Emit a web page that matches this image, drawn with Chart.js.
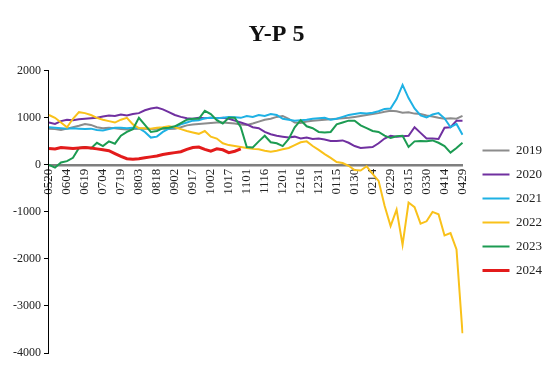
<!DOCTYPE html>
<html>
<head>
<meta charset="utf-8">
<script src="https://cdn.jsdelivr.net/npm/chart.js@4.4.1/dist/chart.umd.min.js"></script>
<style>
    html, body { margin: 0; padding: 0; background: #fff; }
    #wrap { width: 550px; height: 367px; }
</style>
</head>
<body>
<div id="wrap"><canvas id="myChart" width="550" height="367"></canvas></div>
<script>
(function () {
    'use strict';

    // one category every 5 days, 0520 -> 0429
    var days = ['0520', '0525', '0530', '0604', '0609', '0614', '0619', '0624', '0629',
        '0704', '0709', '0714', '0719', '0724', '0729', '0803', '0808', '0813', '0818', '0823', '0828',
        '0902', '0907', '0912', '0917', '0922', '0927', '1002', '1007', '1012', '1017', '1022', '1027',
        '1101', '1106', '1111', '1116', '1121', '1126', '1201', '1206', '1211', '1216', '1221', '1226', '1231',
        '0105', '0110', '0115', '0120', '0125', '0130', '0204', '0209', '0214', '0219', '0224', '0229',
        '0305', '0310', '0315', '0320', '0325', '0330', '0404', '0409', '0414', '0419', '0424', '0429'];

    var tickLabels = ['0520', '0604', '0619', '0704', '0719', '0803', '0818', '0902', '0917', '1002',
        '1017', '1101', '1116', '1201', '1216', '1231', '0115', '0130', '0214', '0229', '0315', '0330',
        '0414', '0429'];

    var years = ['2019', '2020', '2021', '2022', '2023', '2024'];

    var y2019 = [770, 760, 740, 770, 800, 830, 870, 850, 800, 780, 790, 780, 760, 750, 760, 770, 770, 760,
        770, 770, 760, 770, 800, 840, 860, 870, 880, 890, 900, 900, 890, 880, 860, 850, 880, 920, 960, 980,
        1020, 1040, 980, 900, 890, 920, 940, 950, 960, 970, 980, 990, 1000, 1020, 1040, 1060, 1080, 1100,
        1130, 1150, 1140, 1110, 1120, 1090, 1080, 1050, 1030, 1000, 980, 990, 980, 1040];

    var y2020 = [900, 870, 930, 960, 950, 970, 980, 990, 1000, 1030, 1050, 1040, 1070, 1050, 1080, 1100,
        1160, 1200, 1220, 1180, 1120, 1060, 1020, 990, 980, 1000, 990, 1000, 990, 1000, 980, 940, 900, 860,
        800, 780, 700, 650, 620, 600, 580, 600, 560, 580, 550, 560, 540, 510, 510, 520, 470, 400, 360, 370,
        380, 460, 560, 620, 600, 610, 620, 800, 680, 560, 560, 550, 790, 800, 940, 940];

    var y2021 = [800, 790, 780, 770, 780, 770, 760, 770, 740, 730, 760, 790, 790, 780, 790, 780, 700, 580,
        600, 700, 770, 800, 860, 900, 940, 950, 990, 1000, 990, 1000, 1020, 1010, 1000, 1040, 1020, 1060,
        1040, 1080, 1060, 980, 960, 940, 950, 960, 980, 990, 1000, 960, 980, 1020, 1060, 1080, 1100, 1090,
        1110, 1140, 1190, 1200, 1400, 1700, 1420, 1200, 1050, 1010, 1070, 1100, 990, 800, 870, 640];

    var y2022 = [1060, 1000, 900, 800, 980, 1120, 1100, 1060, 1000, 960, 930, 900, 960, 1000, 860, 780,
        780, 770, 790, 800, 820, 800, 760, 720, 690, 660, 720, 600, 560, 460, 420, 400, 380, 360, 340, 330,
        300, 280, 300, 330, 360, 420, 480, 500, 400, 320, 230, 150, 60, 40, -20, -110, -120, -30, -190,
        -340, -870, -1300, -950, -1700, -800, -900, -1250, -1200, -1000, -1050, -1500, -1450, -1800, -3580];

    var y2023 = [0, -60, 50, 80, 150, 360, 380, 350, 470, 400, 500, 450, 620, 700, 760, 1000, 850, 700,
        720, 780, 790, 820, 890, 960, 980, 980, 1150, 1080, 950, 880, 1000, 1000, 800, 380, 370, 500, 620,
        480, 460, 400, 550, 800, 950, 820, 780, 700, 690, 700, 860, 900, 940, 940, 840, 780, 720, 700, 620,
        570, 610, 620, 380, 500, 510, 500, 520, 470, 400, 260, 360, 470];

    var y2024 = [350, 340, 370, 360, 350, 360, 370, 360, 340, 320, 300, 240, 180, 130, 120, 130, 150, 170,
        190, 220, 240, 260, 280, 330, 370, 380, 330, 290, 340, 320, 260, 290, 340];

    var series = [y2019, y2020, y2021, y2022, y2023, y2024];
    var colors = ['#8c8c8c', '#7030a0', '#1eb1e4', '#f9c11a', '#1c9b52', '#e31b1b'];
    var widths = [2, 2, 2, 2, 2, 3];

    var serif = '"Liberation Serif", "Times New Roman", serif';
    Chart.defaults.font.family = serif;
    Chart.defaults.color = '#222';

    // legend sits further right and lower in the original
    var nudgeLegend = {
        id: 'nudgeLegend',
        afterLayout: function (chart) {
            chart.legend.left += 9;
            chart.legend.right += 9;
            chart.legend.top += 34;
            chart.legend.bottom += 34;
        }
    };

    var datasets = years.map(function (year, i) {
        return {
            label: year,
            data: series[i],
            borderColor: colors[i],
            backgroundColor: colors[i],
            borderWidth: widths[i],
            pointRadius: 0,
            tension: 0,
            order: years.length - i
        };
    });

    new Chart(document.getElementById('myChart'), {
        type: 'line',
        data: {
            labels: days,
            datasets: datasets
        },
        plugins: [nudgeLegend],
        options: {
            responsive: false,
            animation: false,
            layout: {
                padding: { left: 10, right: 7, top: 0, bottom: 14 }
            },
            plugins: {
                title: {
                    display: true,
                    text: 'Y-P 5',
                    color: '#111',
                    font: { size: 24, weight: 'bold', family: serif },
                    padding: { top: 20, bottom: 22 }
                },
                legend: {
                    position: 'right',
                    reverse: true,
                    labels: {
                        boxWidth: 27,
                        boxHeight: 0,
                        padding: 11,
                        color: '#222',
                        font: { size: 13, family: serif }
                    }
                },
                tooltip: { enabled: false }
            },
            scales: {
                x: {
                    position: { y: 0 },
                    grid: { display: false, drawTicks: false },
                    border: { display: true, color: '#7f7f7f', width: 2.5 },
                    ticks: {
                        autoSkip: false,
                        minRotation: 90,
                        maxRotation: 90,
                        padding: 4,
                        color: '#222',
                        font: { size: 13, family: serif },
                        callback: function (value, index) {
                            var d = days[index];
                            return tickLabels.indexOf(d) >= 0 ? d : '';
                        }
                    },
                    afterFit: function (scale) {
                        scale.height = 0;
                    }
                },
                y: {
                    min: -4000,
                    max: 2000,
                    grid: {
                        drawOnChartArea: false,
                        drawTicks: true,
                        tickLength: 5,
                        color: '#000'
                    },
                    border: { display: true, color: '#000', width: 1 },
                    ticks: {
                        stepSize: 1000,
                        padding: 3,
                        color: '#222',
                        font: { size: 12, family: serif },
                        callback: function (value) {
                            return String(value);
                        }
                    }
                }
            }
        }
    });
})();
</script>
</body>
</html>
